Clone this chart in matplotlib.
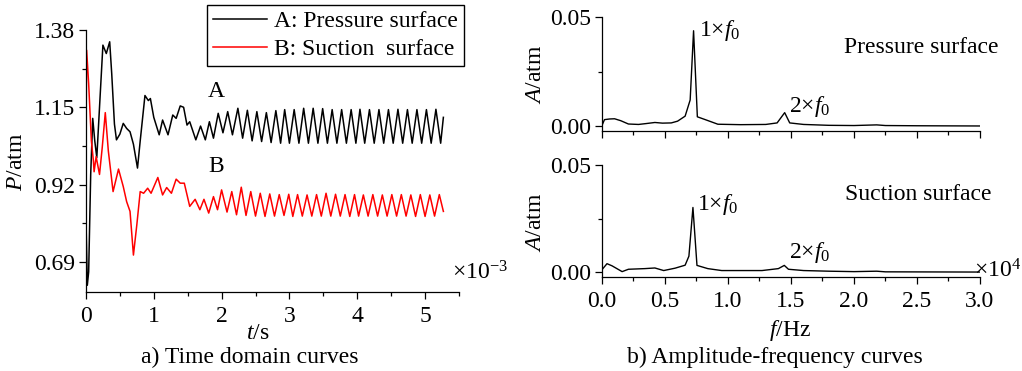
import numpy as np
import matplotlib.pyplot as plt
from matplotlib.ticker import MultipleLocator

plt.rcParams['font.family'] = ['Liberation Serif', 'DejaVu Serif']
plt.rcParams['mathtext.fontset'] = 'custom'
plt.rcParams['mathtext.rm'] = 'Liberation Serif'
plt.rcParams['mathtext.it'] = 'Liberation Serif:italic'
plt.rcParams['axes.unicode_minus'] = False

# ---------------- time domain, t in 1e-3 s, P in atm ----------------
# A: pressure surface (extrema)
t_a = [0.00, 0.02, 0.04, 0.07, 0.10, 0.13, 0.16, 0.20, 0.25, 0.30, 0.35,
       0.38, 0.42, 0.45, 0.50, 0.55, 0.60, 0.65, 0.70, 0.76, 0.80, 0.87,
       0.92, 0.95, 1.00, 1.08, 1.13, 1.21, 1.28, 1.33, 1.39, 1.44, 1.49,
       1.53, 1.62, 1.69, 1.76, 1.82, 1.88, 1.95, 2.02, 2.09, 2.16, 2.24,
       2.31, 2.38, 2.45, 2.52, 2.59, 2.66, 2.73, 2.80, 2.87, 2.93, 3.00,
       3.07, 3.14, 3.21, 3.28, 3.35, 3.42, 3.49, 3.56, 3.63, 3.70, 3.77,
       3.84, 3.91, 3.98, 4.04, 4.11, 4.18, 4.25, 4.32, 4.39, 4.46, 4.53,
       4.60, 4.67, 4.74, 4.81, 4.88, 4.95, 5.02, 5.09, 5.16, 5.23, 5.27]
p_a = [0.82, 0.62, 0.66, 0.95, 1.117, 1.05, 1.00, 1.15, 1.335, 1.31, 1.345,
       1.25, 1.10, 1.053, 1.07, 1.102, 1.087, 1.077, 1.04, 0.969, 1.05, 1.185,
       1.17, 1.176, 1.12, 1.068, 1.112, 1.068, 1.127, 1.117, 1.154, 1.15, 1.097,
       1.107, 1.053, 1.094, 1.053, 1.107, 1.058, 1.132, 1.074, 1.137, 1.068, 1.147,
       1.058, 1.141, 1.050, 1.137, 1.048, 1.134, 1.045, 1.140, 1.043, 1.143, 1.043,
       1.143, 1.043, 1.147, 1.043, 1.147, 1.043, 1.146, 1.043, 1.143, 1.043, 1.143,
       1.043, 1.143, 1.043, 1.144, 1.043, 1.143, 1.043, 1.143, 1.043, 1.143, 1.043,
       1.144, 1.043, 1.143, 1.043, 1.143, 1.043, 1.143, 1.043, 1.144, 1.043, 1.12]

# B: suction surface
t_b = [0.00, 0.01, 0.04, 0.08, 0.11, 0.12, 0.15, 0.20, 0.24, 0.285, 0.33,
       0.40, 0.48, 0.55, 0.60, 0.65, 0.70, 0.75, 0.80, 0.85, 0.91, 0.96,
       1.06, 1.13, 1.19, 1.26, 1.33, 1.39, 1.45, 1.53, 1.61, 1.68, 1.74,
       1.81, 1.88, 1.94, 2.00, 2.08, 2.15, 2.22, 2.29, 2.36, 2.43, 2.50,
       2.57, 2.64, 2.71, 2.78, 2.85, 2.92, 2.99, 3.05, 3.12, 3.19, 3.26,
       3.33, 3.40, 3.47, 3.54, 3.61, 3.68, 3.75, 3.82, 3.89, 3.96, 4.02,
       4.09, 4.16, 4.23, 4.30, 4.37, 4.44, 4.51, 4.58, 4.65, 4.72, 4.79,
       4.86, 4.93, 5.00, 5.07, 5.14, 5.21, 5.27]
p_b = [1.06, 1.32, 1.22, 1.05, 0.99, 0.958, 1.003, 0.95, 1.03, 1.134, 1.02,
       0.899, 0.966, 0.914, 0.869, 0.84, 0.71, 0.80, 0.899, 0.894, 0.909, 0.894,
       0.941, 0.889, 0.911, 0.894, 0.936, 0.924, 0.924, 0.855, 0.876, 0.845, 0.876,
       0.835, 0.884, 0.845, 0.904, 0.838, 0.899, 0.830, 0.912, 0.828, 0.899, 0.826,
       0.894, 0.825, 0.892, 0.826, 0.890, 0.828, 0.891, 0.825, 0.890, 0.826, 0.889,
       0.826, 0.890, 0.826, 0.894, 0.826, 0.891, 0.826, 0.890, 0.825, 0.890, 0.826,
       0.889, 0.826, 0.890, 0.826, 0.889, 0.826, 0.890, 0.826, 0.890, 0.826, 0.889,
       0.825, 0.890, 0.825, 0.889, 0.826, 0.890, 0.84]

# ---------------- amplitude spectra, f in 1e4 Hz, A in atm ----------------
f_top = [0.00, 0.02, 0.06, 0.10, 0.15, 0.21, 0.29, 0.35, 0.42, 0.48, 0.55,
         0.60, 0.66, 0.70, 0.727, 0.757, 0.82, 0.92, 1.10, 1.30, 1.39, 1.45,
         1.49, 1.60, 1.80, 2.00, 2.18, 2.25, 2.50, 3.00]
a_top = [0.0003, 0.0030, 0.0033, 0.0034, 0.0025, 0.0010, 0.0008, 0.0012,
         0.0017, 0.0014, 0.0015, 0.0023, 0.0046, 0.0120, 0.0437, 0.0043,
         0.0030, 0.0009, 0.0007, 0.0008, 0.0015, 0.0062, 0.0015, 0.0008,
         0.0004, 0.0003, 0.0006, 0.0003, 0.0002, 0.0001]

f_bot = [0.00, 0.04, 0.08, 0.16, 0.21, 0.34, 0.42, 0.49, 0.58, 0.66, 0.69,
         0.722, 0.754, 0.84, 0.95, 1.27, 1.40, 1.447, 1.48, 1.60, 1.80, 2.00,
         2.18, 2.25, 3.00]
a_bot = [0.0012, 0.0040, 0.0030, 0.0003, 0.0014, 0.0017, 0.0020, 0.0008,
         0.0019, 0.0033, 0.0075, 0.0302, 0.0032, 0.0017, 0.0008, 0.0008,
         0.0017, 0.0032, 0.0014, 0.0008, 0.0005, 0.0003, 0.0005, 0.0002,
         0.0001]

p_ticks = [0.69, 0.92, 1.15, 1.38]
a_ticks = [0.00, 0.05]

fs = 17


def style_axes(ax):
    ax.spines['top'].set_visible(False)
    ax.spines['right'].set_visible(False)
    for s in ('left', 'bottom'):
        ax.spines[s].set_linewidth(0.9)
    ax.tick_params(which='major', direction='out', length=5, width=0.9,
                   labelsize=fs, pad=3)
    ax.tick_params(which='minor', direction='out', length=3, width=0.9)
    ax.tick_params(axis='x', which='major', pad=5)


fig = plt.figure(figsize=(10.22, 3.71), dpi=100)

# ---------------- a) time domain ----------------
ax1 = fig.add_axes([0.0841, 0.2129, 0.365, 0.7062])
ln_a, = ax1.plot(t_a, p_a, color='k', lw=1.1, label='A: Pressure surface')
ln_b, = ax1.plot(t_b, p_b, color='red', lw=1.1, label='B: Suction  surface')
ax1.set_xlim(0, 5.5)
ax1.set_ylim(0.60, 1.38)
ax1.set_yticks(p_ticks)
ax1.set_yticklabels(['%.2f' % v for v in p_ticks])
ax1.yaxis.set_minor_locator(MultipleLocator(0.115))
ax1.set_xticks(range(6))
ax1.xaxis.set_minor_locator(MultipleLocator(0.5))
style_axes(ax1)
ax1.text(1.917, 1.196, 'A', fontsize=fs, ha='center', va='center')
ax1.text(1.917, 0.973, 'B', fontsize=fs, ha='center', va='center')
leg = ax1.legend(loc='upper left', bbox_to_anchor=(0.2025, 0.9865),
                 bbox_transform=fig.transFigure, fancybox=False,
                 edgecolor='k', framealpha=1, fontsize=fs, borderaxespad=0,
                 handlelength=2.3, handletextpad=0.3, labelspacing=0.25,
                 borderpad=0.25)
leg.get_frame().set_linewidth(1.0)

fig.text(0.4423, 0.264, '×10$^{-3}$', fontsize=fs, ha='left', va='center')
fig.text(0.0166, 0.5633, '$P$/atm', fontsize=fs, rotation=90,
         ha='center', va='center')
fig.text(0.2524, 0.1024, '$t$/s', fontsize=fs, ha='center', va='center')
fig.text(0.2446, 0.0377, 'a) Time domain curves', fontsize=fs,
         ha='center', va='center')

# ---------------- b) amplitude-frequency ----------------
ax2 = fig.add_axes([0.589, 0.6469, 0.3699, 0.3073])
ax3 = fig.add_axes([0.589, 0.2534, 0.3699, 0.3019])
ax2.plot(f_top, a_top, color='k', lw=1.0)
ax3.plot(f_bot, a_bot, color='k', lw=1.0)
for ax in (ax2, ax3):
    ax.set_xlim(0, 3.0)
    ax.set_ylim(-0.0022, 0.05)
    ax.set_yticks(a_ticks)
    ax.set_yticklabels(['%.2f' % v for v in a_ticks])
    ax.yaxis.set_minor_locator(MultipleLocator(0.025))
    ax.set_xticks(np.arange(0, 3.01, 0.5))
    ax.xaxis.set_minor_locator(MultipleLocator(0.25))
    style_axes(ax)
ax2.set_xticklabels([])
ax3.set_xticklabels(['%.1f' % v for v in np.arange(0, 3.01, 0.5)])

ax2.text(0.77, 0.044, '1×$f_0$', fontsize=fs, ha='left', va='center')
ax2.text(1.484, 0.0092, '2×$f_0$', fontsize=fs, ha='left', va='center')
ax3.text(0.754, 0.0315, '1×$f_0$', fontsize=fs, ha='left', va='center')
ax3.text(1.484, 0.0093, '2×$f_0$', fontsize=fs, ha='left', va='center')

fig.text(0.9012, 0.8733, 'Pressure surface', fontsize=fs,
         ha='center', va='center')
fig.text(0.8982, 0.4744, 'Suction surface', fontsize=fs,
         ha='center', va='center')
fig.text(0.953, 0.2695, '×10$^{4}$', fontsize=fs, ha='left', va='center')
fig.text(0.5235, 0.8005, '$A$/atm', fontsize=fs, rotation=90,
         ha='center', va='center')
fig.text(0.5235, 0.4016, '$A$/atm', fontsize=fs, rotation=90,
         ha='center', va='center')
fig.text(0.773, 0.1105, '$f$/Hz', fontsize=fs, ha='center', va='center')
fig.text(0.7583, 0.0377, 'b) Amplitude-frequency curves', fontsize=fs,
         ha='center', va='center')

fig.savefig('out.png', dpi=100)
